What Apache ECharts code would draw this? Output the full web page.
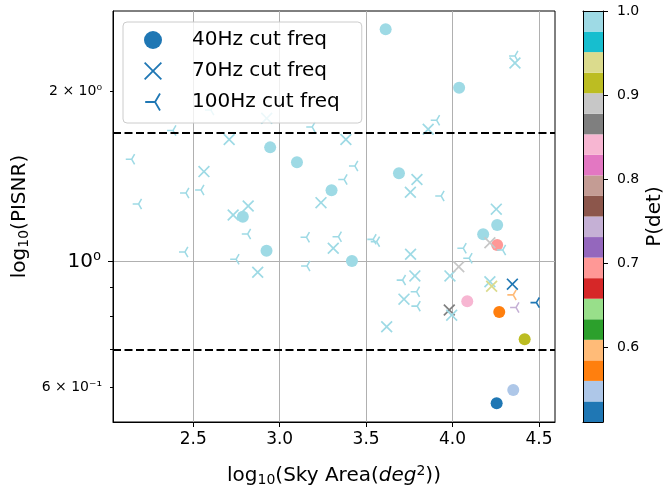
<!DOCTYPE html>
<html>
<head>
<meta charset="utf-8">
<script src="https://cdn.jsdelivr.net/npm/echarts@6/dist/echarts.min.js"></script>
<style>html,body{margin:0;padding:0;background:#fff}#c{width:663px;height:488px}</style>
</head>
<body>
<div id="c"></div>
<script>
// ---- data: [log10 sky area, PISNR, P(det)] ----
const circles40 = [
  [3.613, 2.570, 1.0], [4.038, 2.027, 1.0], [3.690, 1.432, 1.0], [3.300, 1.337, 1.0],
  [2.945, 1.591, 1.0], [3.100, 1.497, 1.0], [2.787, 1.200, 1.0], [2.924, 1.046, 1.0],
  [3.418, 1.003, 1.0], [4.177, 1.118, 1.0], [4.258, 1.161, 1.0], [4.258, 1.070, 0.695],
  [4.085, 0.852, 0.845], [4.270, 0.815, 0.570], [4.417, 0.730, 0.920], [4.351, 0.594, 0.545],
  [4.255, 0.563, 0.512]
];
const crosses70 = [
  [2.925, 1.790, 1.0], [2.708, 1.643, 1.0], [3.383, 1.643, 1.0], [3.859, 1.712, 1.0],
  [4.361, 2.241, 1.0], [2.562, 1.442, 1.0], [3.239, 1.271, 1.0], [3.794, 1.396, 1.0],
  [3.756, 1.326, 1.0], [4.253, 1.238, 1.0], [2.731, 1.209, 1.0], [2.818, 1.254, 1.0],
  [3.310, 1.056, 1.0], [2.873, 0.958, 1.0], [3.757, 1.031, 1.0], [3.782, 0.944, 1.0],
  [3.719, 0.859, 1.0], [3.619, 0.768, 1.0], [3.985, 0.944, 1.0], [4.036, 0.980, 0.890],
  [3.981, 0.822, 0.866], [3.995, 0.805, 1.0], [4.216, 0.922, 1.0], [4.226, 0.905, 0.940],
  [4.346, 0.913, 0.520], [4.216, 1.080, 0.890]
];
const tris100 = [
  [2.383, 1.704, 1.0], [2.602, 1.852, 1.0], [3.188, 1.728, 1.0], [3.908, 1.776, 1.0],
  [4.361, 2.306, 1.0], [2.144, 1.516, 1.0], [3.435, 1.475, 1.0], [3.373, 1.396, 1.0],
  [2.458, 1.322, 1.0], [2.545, 1.338, 1.0], [2.184, 1.264, 1.0], [3.934, 1.306, 1.0],
  [2.452, 1.040, 1.0], [2.748, 1.010, 1.0], [2.815, 1.119, 1.0], [3.155, 1.104, 1.0],
  [3.158, 0.983, 1.0], [3.340, 1.107, 1.0], [3.541, 1.095, 1.0], [3.561, 1.085, 1.0],
  [4.062, 1.056, 1.0], [4.096, 1.014, 1.0], [4.290, 1.049, 1.0], [3.711, 0.928, 1.0],
  [3.792, 0.885, 1.0], [3.796, 0.835, 1.0], [4.351, 0.874, 0.597], [4.367, 0.830, 0.745],
  [4.485, 0.847, 0.520]
];
const seriesNames = ['40Hz cut freq', '70Hz cut freq', '100Hz cut freq'];
const thresholds = [1.69, 0.70];
const xTicks = [2.5, 3.0, 3.5, 4.0, 4.5];
const yMajorTicks = [1];
const yMajorLabels = ['10⁰'];
const yMinorTicks = [0.6, 0.7, 0.8, 0.9, 2];
const yMinorLabelVals = [0.6, 2];
const yMinorLabels = ['6 × 10⁻¹', '2 × 10⁰'];
const cbTicks = [0.6, 0.7, 0.8, 0.9, 1.0];
const cbMin = 0.511, cbMax = 1.0;
const tab20 = ['#1f77b4','#aec7e8','#ff7f0e','#ffbb78','#2ca02c','#98df8a','#d62728','#ff9896',
  '#9467bd','#c5b0d5','#8c564b','#c49c94','#e377c2','#f7b6d2','#7f7f7f','#c7c7c7',
  '#bcbd22','#dbdb8d','#17becf','#9edae5'];

// ---- styles ----
const FONT = 'DejaVu Sans';
const X_PATH = 'path://M10 0L50 40L90 0L100 10L60 50L100 90L90 100L50 60L10 100L0 90L40 50L0 10Z';
const TRI_PATH = 'path://M0 43.5L46.25 43.5L69.37 3.45L80.63 9.95L57.5 50L80.63 90.05L69.37 96.55L46.25 56.5L0 56.5Z';
const X_PATH_LEG = 'path://M7 0L50 43L93 0L100 7L57 50L100 93L93 100L50 57L7 100L0 93L43 50L0 7Z';
const TRI_PATH_LEG = 'path://M0 45.5L47.4 45.5L71.1 4.45L78.9 8.95L55.2 50L78.9 91.05L71.1 95.55L47.4 54.5L0 54.5Z';
const step = (cbMax - cbMin) / tab20.length;
const pieces = tab20.map((c, i) => {
  const p = { color: c };
  if (i > 0) p.gte = cbMin + i * step;
  if (i < tab20.length - 1) p.lt = cbMin + (i + 1) * step;
  return p;
});
const richTitle = {
  s: { fontFamily: FONT, fontSize: 14, padding: [9, 0, 0, 0], color: '#000' },
  p: { fontFamily: FONT, fontSize: 14, padding: [0, 0, 10, 0], color: '#000' },
  i: { fontFamily: FONT, fontSize: 20, fontStyle: 'italic', color: '#000' }
};
function findLabel(vals, labels, v) {
  for (let k = 0; k < vals.length; k++) if (Math.abs(vals[k] - v) < 1e-6 * Math.max(1, vals[k])) return labels[k];
  return '';
}

const chart = echarts.init(document.getElementById('c'), null, { renderer: 'canvas' });
const cbSeries = [{
  type: 'bar', xAxisIndex: 1, yAxisIndex: 2, stack: 'cb', barWidth: '100%', silent: true,
  data: [cbMin], itemStyle: { color: 'rgba(0,0,0,0)' }
}].concat(tab20.map(c => ({
  type: 'bar', xAxisIndex: 1, yAxisIndex: 2, stack: 'cb', barWidth: '100%', silent: true,
  data: [step], itemStyle: { color: c }
})));

chart.setOption({
  animation: false,
  textStyle: { fontFamily: FONT, color: '#000' },
  grid: [
    { left: 113, top: 11, width: 442, height: 411, show: true, borderColor: '#000', borderWidth: 1,
      backgroundColor: '#fff', containLabel: false, outerBoundsMode: 'none' },
    { left: 583, top: 11, width: 20, height: 411, containLabel: false, outerBoundsMode: 'none' }
  ],
  legend: {
    orient: 'vertical', left: 123, top: 22,
    padding: [7, 22, 10, 21], itemWidth: 18, itemHeight: 18, itemGap: 9,
    backgroundColor: 'rgba(255,255,255,0.8)', borderColor: '#cccccc', borderWidth: 1, borderRadius: 4,
    textStyle: { fontFamily: FONT, fontSize: 20, color: '#000', padding: [0, 0, 0, 25], lineHeight: 22 },
    data: [
      { name: seriesNames[0], icon: 'circle', itemStyle: { color: '#1f77b4' } },
      { name: seriesNames[1], icon: X_PATH_LEG, itemStyle: { color: '#1f77b4' } },
      { name: seriesNames[2], icon: TRI_PATH_LEG, itemStyle: { color: '#1f77b4' } }
    ],
    selectedMode: false
  },
  visualMap: { type: 'piecewise', show: false, dimension: 2, seriesIndex: [0, 1, 2], pieces: pieces },
  xAxis: [
    {
      type: 'value', gridIndex: 0, min: 2.036, max: 4.5925,
      name: 'log{s|10}(Sky Area({i|deg}{p|2}))', nameLocation: 'middle', nameGap: 42,
      nameTextStyle: { fontFamily: FONT, fontSize: 20, color: '#000', rich: richTitle },
      axisLine: { show: true, lineStyle: { color: '#000', width: 1 } },
      axisTick: { show: true, customValues: xTicks, length: 5, lineStyle: { color: '#000' } },
      axisLabel: { customValues: xTicks, fontFamily: FONT, fontSize: 17, color: '#000', margin: 9,
        formatter: v => v.toFixed(1) },
      splitLine: { show: true, lineStyle: { color: '#b0b0b0', width: 1 } }
    },
    {
      type: 'category', gridIndex: 1, data: ['P'], z: 10,
      axisLine: { show: true, lineStyle: { color: '#000' } }, axisTick: { show: false },
      axisLabel: { show: false }, splitLine: { show: false }
    },
    {
      type: 'category', gridIndex: 1, data: ['P'], position: 'top', z: 10,
      axisLine: { show: true, lineStyle: { color: '#000' } }, axisTick: { show: false },
      axisLabel: { show: false }, splitLine: { show: false }
    }
  ],
  yAxis: [
    {
      type: 'log', logBase: 10, gridIndex: 0, min: 0.5216, max: 2.768,
      name: 'log{s|10}(PISNR)', nameLocation: 'middle', nameGap: 82, nameRotate: 90,
      nameTextStyle: { fontFamily: FONT, fontSize: 20, color: '#000', rich: richTitle },
      axisLine: { show: true, lineStyle: { color: '#000', width: 1 } },
      axisTick: { show: true, customValues: yMajorTicks, length: 5, lineStyle: { color: '#000' } },
      axisLabel: { customValues: yMajorTicks, fontFamily: FONT, fontSize: 20, color: '#000', margin: 12,
        formatter: v => findLabel(yMajorTicks, yMajorLabels, v) },
      splitLine: { show: true, lineStyle: { color: '#b0b0b0', width: 1 } }
    },
    {
      type: 'log', logBase: 10, gridIndex: 0, min: 0.5216, max: 2.768, position: 'left',
      axisLine: { show: false },
      axisTick: { show: true, customValues: yMinorTicks, length: 3, lineStyle: { color: '#000' } },
      axisLabel: { customValues: yMinorLabelVals, fontFamily: FONT, fontSize: 14, color: '#000', margin: 11,
        formatter: v => findLabel(yMinorLabelVals, yMinorLabels, v) },
      splitLine: { show: false }
    },
    {
      type: 'value', gridIndex: 1, min: cbMin, max: cbMax, position: 'right', z: 10,
      name: 'P(det)', nameLocation: 'middle', nameGap: 42, nameRotate: 90,
      nameTextStyle: { fontFamily: FONT, fontSize: 20, color: '#000' },
      axisLine: { show: true, lineStyle: { color: '#000' } },
      axisTick: { show: true, customValues: cbTicks, length: 5, lineStyle: { color: '#000' } },
      axisLabel: { customValues: cbTicks, fontFamily: FONT, fontSize: 14, color: '#000', margin: 14,
        formatter: v => v.toFixed(1) },
      splitLine: { show: false }
    },
    {
      type: 'value', gridIndex: 1, min: cbMin, max: cbMax, position: 'left', z: 10,
      axisLine: { show: true, lineStyle: { color: '#000' } }, axisTick: { show: false },
      axisLabel: { show: false }, splitLine: { show: false }
    }
  ],
  series: [
    {
      name: seriesNames[0], type: 'scatter', xAxisIndex: 0, yAxisIndex: 0,
      symbol: 'circle', symbolSize: 12, itemStyle: { color: '#1f77b4', opacity: 1 },
      data: circles40,
      markLine: {
        silent: true, symbol: 'none', label: { show: false },
        lineStyle: { color: '#000', width: 2, type: [8, 3.5] },
        data: thresholds.map(t => ({ yAxis: t }))
      }
    },
    {
      name: seriesNames[1], type: 'scatter', xAxisIndex: 0, yAxisIndex: 0,
      symbol: X_PATH, symbolSize: 12, itemStyle: { color: '#1f77b4', opacity: 1 },
      data: crosses70
    },
    {
      name: seriesNames[2], type: 'scatter', xAxisIndex: 0, yAxisIndex: 0,
      symbol: TRI_PATH, symbolSize: 11, symbolKeepAspect: true, symbolOffset: [-1.15, 0],
      itemStyle: { color: '#1f77b4', opacity: 1 },
      data: tris100
    }
  ].concat(cbSeries)
});
</script>
</body>
</html>
